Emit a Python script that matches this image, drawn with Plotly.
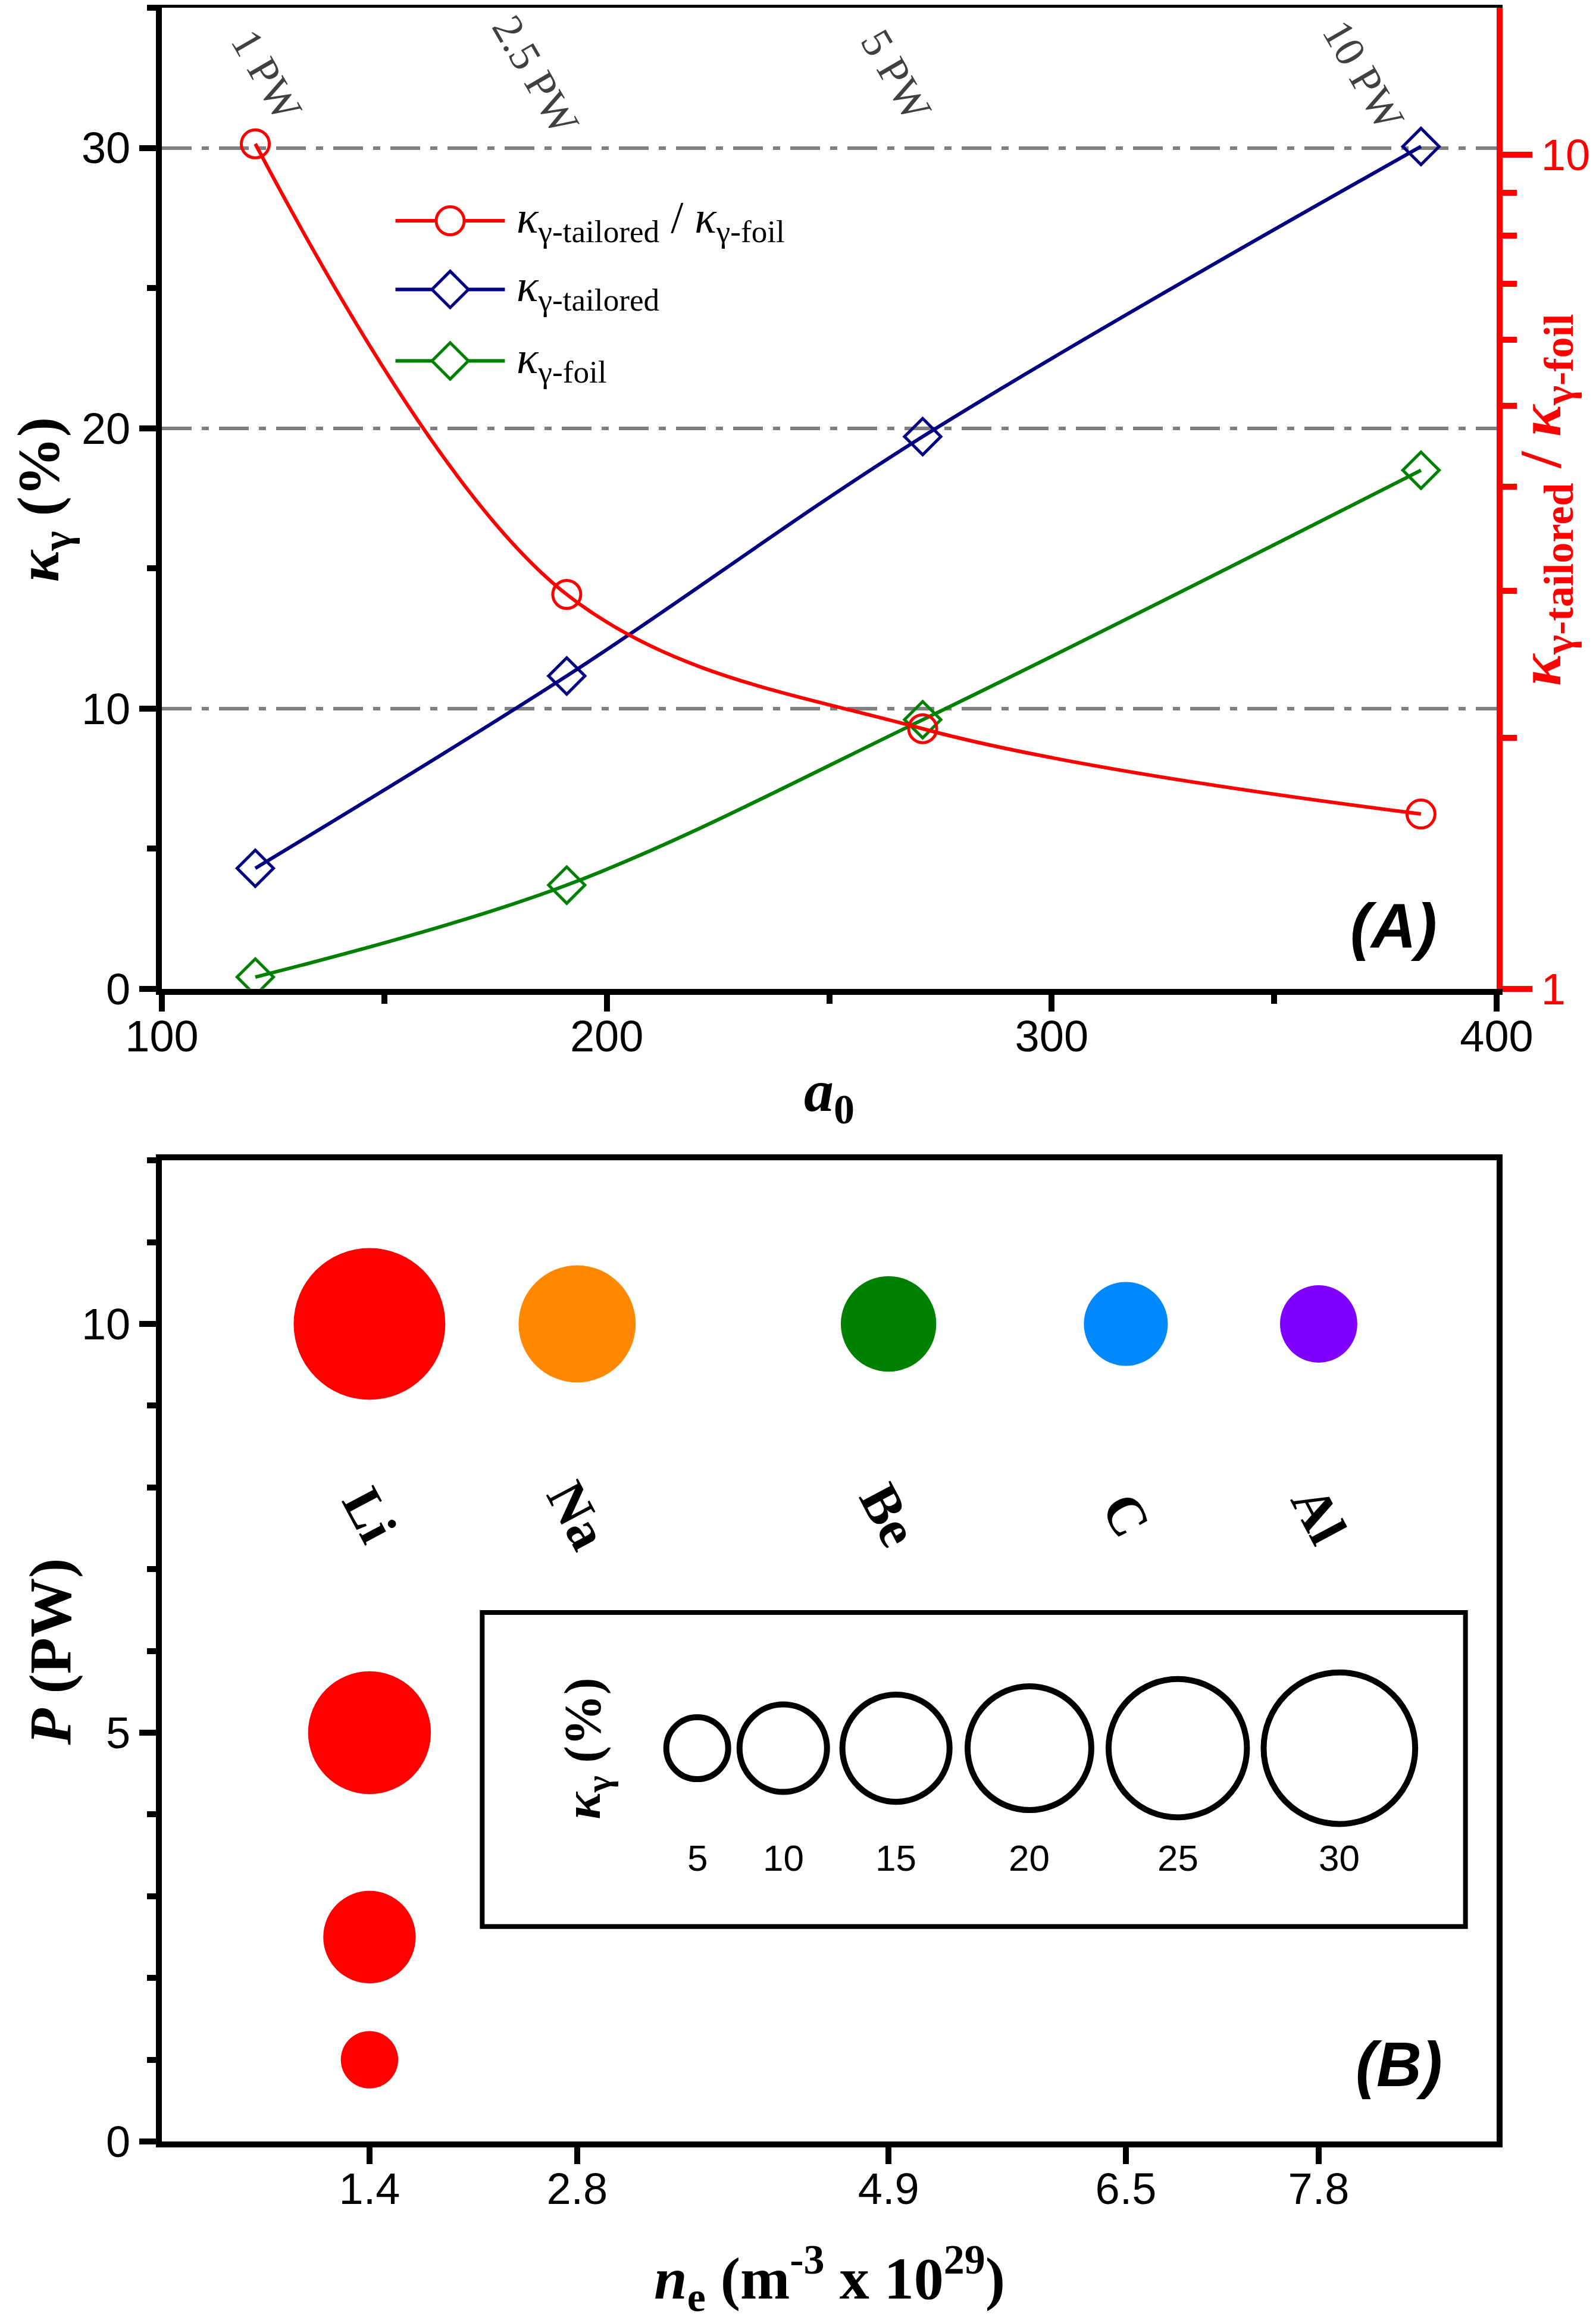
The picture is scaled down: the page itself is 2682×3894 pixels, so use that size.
import plotly.graph_objects as go

# ---- panel (A): conversion efficiency vs a0 ----
a0 = [121, 191, 271, 383]
power_pw = [1, 2.5, 5, 10]
kappa_tailored = [4.3, 11.16, 19.7, 30.05]
kappa_foil = [0.42, 3.7, 9.6, 18.5]
kappa_ratio = [10.3, 2.97, 2.05, 1.62]

# ---- panel (B): bubble map ----
materials = ["Li", "Na", "Be", "C", "Al"]
density_ne = [1.4, 2.8, 4.9, 6.5, 7.8]
power_10 = [10, 10, 10, 10, 10]
kappa_10pw = [30.05, 17.9, 11.9, 9.2, 7.8]
li_power = [5, 2.5, 1]
li_kappa = [19.7, 11.16, 4.3]
key_kappa = [5, 10, 15, 20, 25, 30]

# styles / positions
SANS = "Liberation Sans"
SERIF = "Liberation Serif"
RED, BLUE, GREEN = "#ff0000", "#000080", "#008000"
mat_colors = ["#ff0000", "#ff8800", "#008000", "#0088ff", "#8000ff"]
# plotly area mode: diameter = sqrt(2 * v / sizeref)
SIZEREF = 2 / 46.5 ** 2
W, H = 2682, 3894
AXW = 10
LW = 6

pw_label_x = [123.5, 184, 265, 370]
pw_label_y = 32.6
leg_rows = [27.4, 24.95, 22.4]
leg_x = (152.5, 164.8, 177.1, 179.5)
key_x = [3.61, 4.19, 4.95, 5.85, 6.85, 7.94]
key_y = 4.81

fig = go.Figure()

# data curves
fig.add_trace(go.Scatter(x=a0, y=kappa_ratio, mode="lines+markers", xaxis="x", yaxis="y2",
                         line=dict(color=RED, width=LW, shape="spline"),
                         marker=dict(symbol="circle-open", size=47, color=RED, line=dict(width=5))))
fig.add_trace(go.Scatter(x=a0, y=kappa_tailored, mode="lines+markers", xaxis="x", yaxis="y",
                         line=dict(color=BLUE, width=LW, shape="spline"),
                         marker=dict(symbol="diamond-open", size=47, color=BLUE, line=dict(width=5))))
fig.add_trace(go.Scatter(x=a0, y=kappa_foil, mode="lines+markers", xaxis="x", yaxis="y",
                         line=dict(color=GREEN, width=LW, shape="spline"),
                         marker=dict(symbol="diamond-open", size=47, color=GREEN, line=dict(width=5))))

# hand-made legend (plotly caps legend marker size)
leg_items = [
    (RED, "circle", "<i>κ</i><sub>γ-tailored</sub> / <i>κ</i><sub>γ-foil</sub>"),
    (BLUE, "diamond", "<i>κ</i><sub>γ-tailored</sub>"),
    (GREEN, "diamond", "<i>κ</i><sub>γ-foil</sub>"),
]
annotations = []
for (col, sym, txt), row in zip(leg_items, leg_rows):
    fig.add_trace(go.Scatter(x=[leg_x[0], leg_x[2]], y=[row, row], mode="lines", xaxis="x", yaxis="y",
                             line=dict(color=col, width=LW), hoverinfo="skip"))
    fig.add_trace(go.Scatter(x=[leg_x[1]], y=[row], mode="markers", xaxis="x", yaxis="y",
                             marker=dict(symbol=sym, size=47, color="white", line=dict(color=col, width=5)),
                             hoverinfo="skip"))
    annotations.append(dict(x=leg_x[3], y=row, xref="x", yref="y", text=txt, showarrow=False,
                            xanchor="left", yanchor="middle", font=dict(family=SERIF, size=76, color="black")))

for p, lx in zip(power_pw, pw_label_x):
    annotations.append(dict(x=lx, y=pw_label_y, xref="x", yref="y", text=f"{p:g} PW", showarrow=False,
                            textangle=60, font=dict(family=SERIF, size=72, color="#404040")))

# bubbles
fig.add_trace(go.Scatter(x=density_ne, y=power_10, mode="markers", xaxis="x3", yaxis="y3",
                         marker=dict(size=kappa_10pw, sizemode="area", sizeref=SIZEREF,
                                     color=mat_colors, line=dict(width=0), opacity=1)))
fig.add_trace(go.Scatter(x=[density_ne[0]] * len(li_power), y=li_power, mode="markers", xaxis="x3", yaxis="y3",
                         marker=dict(size=li_kappa, sizemode="area", sizeref=SIZEREF,
                                     color=mat_colors[0], line=dict(width=0), opacity=1)))
# size key
fig.add_trace(go.Scatter(x=key_x, y=[key_y] * len(key_x), mode="markers", xaxis="x3", yaxis="y3",
                         marker=dict(symbol="circle-open", size=key_kappa, sizemode="area", sizeref=SIZEREF,
                                     color="black", opacity=1, line=dict(width=10, color="black"))))
for v, kx in zip(key_kappa, key_x):
    annotations.append(dict(x=kx, y=3.47, xref="x3", yref="y3", text=str(v), showarrow=False,
                            font=dict(family=SANS, size=62, color="black")))
annotations.append(dict(x=2.86, y=key_y, xref="x3", yref="y3", text="<b><i>κ</i><sub>γ</sub> (%)</b>",
                        showarrow=False, textangle=-90, font=dict(family=SERIF, size=86, color="black")))

for m, nx in zip(materials, density_ne):
    annotations.append(dict(x=nx, y=7.66, xref="x3", yref="y3", text=f"<b>{m}</b>", showarrow=False,
                            textangle=62, font=dict(family=SERIF, size=92, color="black")))

# axis titles and panel labels
title_font = dict(family=SERIF, size=100, color="black")
annotations += [
    dict(x=-0.089, y=0.7694, text="<b><i>κ</i><sub>γ</sub> (%)</b>", textangle=-90, font=title_font),
    dict(x=1.036, y=0.7694, text="<b><i>κ</i><sub>γ-tailored</sub> / <i>κ</i><sub>γ-foil</sub></b>",
         textangle=-90, font=dict(family=SERIF, size=100, color=RED)),
    dict(x=0.5, y=0.4905, text="<b><i>a</i><sub>0</sub></b>", font=title_font),
    dict(x=-0.084, y=0.2295, text="<b><i>P</i> (PW)</b>", textangle=-90, font=title_font),
    dict(x=0.5, y=-0.064, text="<b><i>n</i><sub>e</sub> (m<sup>-3</sup> x 10<sup>29</sup>)</b>", font=title_font),
    dict(x=0.923, y=0.5695, text="<b><i>(A)</i></b>", font=dict(family=SANS, size=105, color="black")),
    dict(x=0.927, y=0.036, text="<b><i>(B)</i></b>", font=dict(family=SANS, size=105, color="black")),
]
for a in annotations[-7:]:
    a.update(xref="paper", yref="paper", showarrow=False, xanchor="center", yanchor="middle")

tickfont = dict(family=SANS, size=74, color="black")
common = dict(showline=True, linewidth=AXW, linecolor="black", ticks="outside", ticklen=28,
              tickwidth=AXW, tickcolor="black", tickfont=tickfont, zeroline=False, automargin=False)

fig.update_layout(
    width=W, height=H, template="none",
    paper_bgcolor="white", plot_bgcolor="white", showlegend=False,
    margin=dict(l=264, r=175, t=5, b=303),
    font=dict(family=SANS),
    xaxis=dict(domain=[0, 1], anchor="y", range=[100, 400], tickvals=[100, 200, 300, 400],
               mirror=True, showgrid=False, ticklabelstandoff=-22,
               minor=dict(dtick=50, tick0=100, ticks="outside", ticklen=15, tickwidth=AXW, tickcolor="black"),
               **common),
    yaxis=dict(domain=[0.5402, 1], anchor="x", range=[0, 35], tickvals=[0, 10, 20, 30],
               showgrid=True, gridcolor="#808080", gridwidth=6, griddash="50px,17px,12px,17px",
               minor=dict(dtick=5, ticks="outside", ticklen=15, tickwidth=AXW, tickcolor="black"),
               **common),
    yaxis2=dict(overlaying="y", anchor="x", side="right", type="log", range=[0, 1.176],
                tickvals=[1, 10], ticktext=["1", "10"], showgrid=False, showline=True,
                linewidth=AXW, linecolor=RED, ticks="outside", ticklen=50, tickwidth=AXW,
                tickcolor=RED, tickfont=dict(family=SANS, size=74, color=RED), zeroline=False,
                automargin=False,
                minor=dict(tickvals=[2, 3, 4, 5, 6, 7, 8, 9], ticks="outside", ticklen=24,
                           tickwidth=AXW, tickcolor=RED, showgrid=False)),
    xaxis3=dict(domain=[0, 1], anchor="y3", range=[0, 9], tickvals=density_ne,
                ticktext=[f"{v:g}" for v in density_ne], mirror=True, showgrid=False,
                ticklabelstandoff=-22, **common),
    yaxis3=dict(domain=[0, 0.4598], anchor="x3", range=[0, 12], tickvals=[0, 5, 10], mirror=True,
                showgrid=False,
                minor=dict(dtick=1, ticks="outside", ticklen=15, tickwidth=AXW, tickcolor="black"),
                **common),
    annotations=annotations,
    shapes=[dict(type="rect", xref="x3", yref="y3", x0=2.16, x1=8.79, y0=2.63, y1=6.47,
                 line=dict(color="black", width=8), fillcolor="rgba(0,0,0,0)", layer="below")],
)

fig.write_html("out.html")
